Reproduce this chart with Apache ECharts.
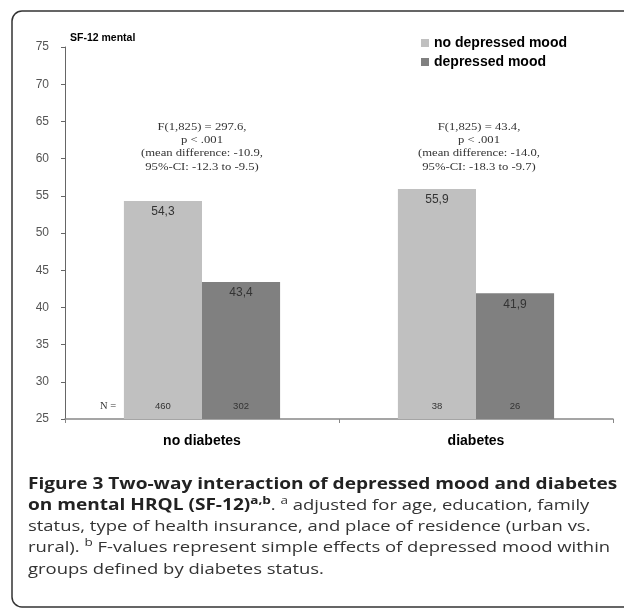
<!DOCTYPE html>
<html>
<head>
<meta charset="utf-8">
<script src="https://cdn.jsdelivr.net/npm/echarts@6/dist/echarts.min.js"></script>
<style>
html,body{margin:0;padding:0;background:#fff;}
#c{width:624px;height:609px;}
</style>
</head>
<body>
<div id="c"></div>
<script>
var categories = ['no diabetes', 'diabetes'];
var seriesNames = ['no depressed mood', 'depressed mood'];
var noDepressed = [54.3, 55.9];
var depressed = [43.4, 41.9];
var nNoDepressed = [460, 38];
var nDepressed = [302, 26];
var yTicks = [25, 30, 35, 40, 45, 50, 55, 60, 65, 70, 75];
var annotations = [
  'F(1,825) = 297.6,\np < .001\n(mean difference: -10.9,\n95%-CI: -12.3 to -9.5)',
  'F(1,825) = 43.4,\np < .001\n(mean difference: -14.0,\n95%-CI: -18.3 to -9.7)'
];
var colors = ['#c0c0c0', '#808080'];

var SANS = 'Arial, "Liberation Sans", sans-serif';
var SERIF = '"Times New Roman", "Liberation Serif", serif';
var CAP = '"Open Sans", sans-serif';

function fmt(v) { return v.toFixed(1).replace('.', ','); }

function makeSeries(name, vals, ns, color) {
  return {
    name: name,
    type: 'bar',
    data: vals,
    barGap: '0%',
    barCategoryGap: '43%',
    itemStyle: { color: color },
    label: {
      show: true, position: 'insideTop', distance: 5,
      fontFamily: SANS, fontSize: 12, color: '#333',
      formatter: function (p) { return fmt(p.value); }
    },
    markPoint: {
      symbol: 'rect', symbolSize: 1,
      itemStyle: { color: 'rgba(0,0,0,0)' },
      label: {
        show: true, position: 'inside',
        fontFamily: SANS, fontSize: 9.5, color: '#333',
        formatter: function (p) { return p.data.nval; }
      },
      data: categories.map(function (c, i) {
        return { coord: [c, 26.7], nval: String(ns[i]) };
      })
    }
  };
}

var chart = echarts.init(document.getElementById('c'), null, { renderer: 'canvas' });
chart.setOption({
  animation: false,
  backgroundColor: '#fff',
  grid: { left: 65, right: 11, top: 47, bottom: 190, containLabel: false },
  legend: {
    orient: 'vertical', left: 421, top: 36, padding: 0,
    itemWidth: 8, itemHeight: 8, itemGap: 5, icon: 'rect',
    textStyle: { fontFamily: SANS, fontSize: 14, fontWeight: 'bold', color: '#000', lineHeight: 14 },
    data: seriesNames
  },
  xAxis: {
    type: 'category', data: categories,
    axisLine: { lineStyle: { color: '#888', width: 1.5 } },
    axisTick: { show: true, length: 4, lineStyle: { color: '#888' } },
    axisLabel: { margin: 15, fontFamily: SANS, fontSize: 14, fontWeight: 'bold', color: '#000' }
  },
  yAxis: {
    type: 'value', min: yTicks[0], max: yTicks[yTicks.length - 1], interval: 5,
    splitLine: { show: false },
    axisLine: { show: true, lineStyle: { color: '#666', width: 1 } },
    axisTick: { show: true, inside: false, length: 4, lineStyle: { color: '#666' } },
    axisLabel: { margin: 16, fontFamily: SANS, fontSize: 12, color: '#555' }
  },
  series: [
    makeSeries(seriesNames[0], noDepressed, nNoDepressed, colors[0]),
    makeSeries(seriesNames[1], depressed, nDepressed, colors[1])
  ],
  graphic: [
    { type: 'rect', silent: true, shape: { x: 12, y: 11, width: 700, height: 596, r: 10 },
      style: { fill: 'none', stroke: '#333', lineWidth: 1.5 } },
    { type: 'text', x: 70, y: 33, scaleX: 1.05,
      style: { text: 'SF-12 mental', fontFamily: SANS, fontSize: 10, fontWeight: 'bold', fill: '#000', verticalAlign: 'top' } },
    { type: 'text', x: 100, y: 401,
      style: { text: 'N =', fontFamily: SERIF, fontSize: 10.5, fill: '#333', verticalAlign: 'top' } },
    { type: 'text', x: 202, y: 120, scaleX: 1.15,
      style: { text: annotations[0], fontFamily: SERIF, fontSize: 11, lineHeight: 13.4, fill: '#333', align: 'center', verticalAlign: 'top' } },
    { type: 'text', x: 479, y: 120, scaleX: 1.15,
      style: { text: annotations[1], fontFamily: SERIF, fontSize: 11, lineHeight: 13.4, fill: '#333', align: 'center', verticalAlign: 'top' } },
    { type: 'text', x: 28, y: 474, scaleX: 1.23,
      style: {
        verticalAlign: 'top',
        text: '{b|Figure 3 Two-way interaction of depressed mood and diabetes}\n' +
              '{b|on mental HRQL (SF-12)}{bs|a,b}{r|. }{s|a}{r| adjusted for age, education, family}\n' +
              '{r|status, type of health insurance, and place of residence (urban vs.}\n' +
              '{r|rural). }{s|b}{r| F-values represent simple effects of depressed mood within}\n' +
              '{r|groups defined by diabetes status.}',
        rich: {
          b: { fontFamily: CAP, fontSize: 15.5, fontWeight: 'bold', lineHeight: 21.2, fill: '#222' },
          r: { fontFamily: CAP, fontSize: 15, lineHeight: 21.2, fill: '#333' },
          bs: { fontFamily: CAP, fontSize: 11, fontWeight: 'bold', lineHeight: 12, verticalAlign: 'top', fill: '#222' },
          s: { fontFamily: CAP, fontSize: 11, lineHeight: 12, verticalAlign: 'top', fill: '#333' }
        }
      } }
  ]
});
</script>
</body>
</html>
